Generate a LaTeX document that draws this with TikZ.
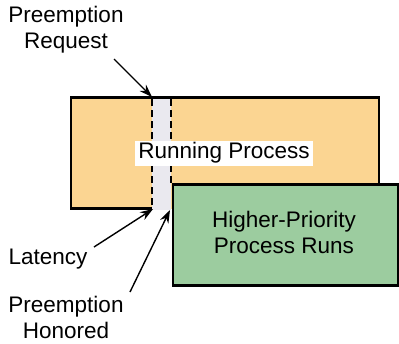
\documentclass[tikz,border=0pt]{standalone}
\usepackage{fontspec}
\setmainfont{Liberation Sans}
\usetikzlibrary{arrows.meta}
\definecolor{orangefill}{HTML}{FBD592}
\definecolor{greenfill}{HTML}{9CCC9F}
\definecolor{grayfill}{HTML}{EAE9EF}
\begin{document}
\begin{tikzpicture}[x=1pt,y=-1pt,
  box/.style={draw=black,line width=2.5pt},
  lbl/.style={font=\fontsize{22.5}{26}\selectfont,align=center,inner sep=0pt},
  arr/.style={-{Stealth[length=13pt,width=9pt]},line width=1.4pt}]
\useasboundingbox (0,0) rectangle (399,343);
\node[fill=orangefill,minimum width=308pt,minimum height=111pt,inner sep=0pt,anchor=north west] (run) at (71,97.5) {};
\fill[grayfill] (152,98) rectangle (171,209.5);
\draw[line width=1.8pt,dash pattern=on 7pt off 4pt] (152,99) -- (152,208);
\draw[line width=1.8pt,dash pattern=on 7pt off 4pt] (171,99) -- (171,183);
\draw[box,line join=miter] (152,208.5) -- (71,208.5) -- (71,97.5) -- (379,97.5) -- (379,184);
\node[fill=white,lbl,inner xsep=3pt,minimum height=25pt] (rtxt) at (224,153) {Running Process};
\node[box,fill=greenfill,minimum width=225pt,minimum height=101pt,inner sep=0pt,anchor=north west] (hp) at (171.5,183) {};
\node[lbl] (hptxt) at (284,232) {Higher-Priority\\Process Runs};
\node[lbl] (req) at (66,30) {Preemption\\Request};
\node[lbl] (lat) at (48,259) {Latency};
\node[lbl] (hon) at (66,317) {Preemption\\Honored};
\coordinate (reqtip) at (152,97);
\coordinate (lattip) at (153,209);
\coordinate (hontip) at (170,210);
\draw[arr] (114,59) -- (reqtip);
\draw[arr] (94,247) -- (lattip);
\draw[arr] (130,292) -- (hontip);
\end{tikzpicture}
\end{document}
